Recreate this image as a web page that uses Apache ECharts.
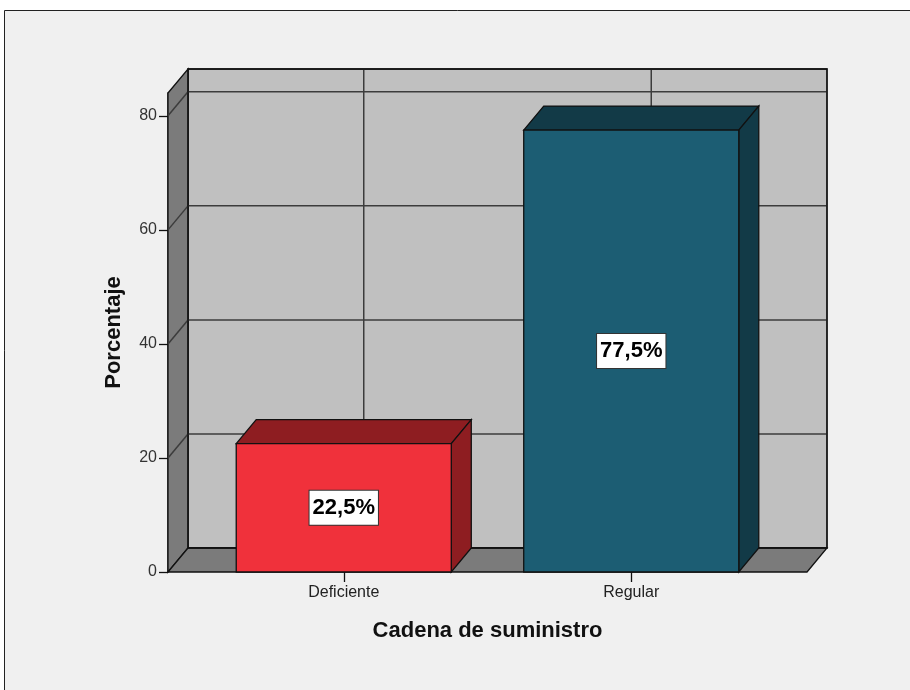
<!DOCTYPE html>
<html>
<head>
<meta charset="utf-8">
<script src="https://cdn.jsdelivr.net/npm/echarts@6/dist/echarts.min.js"></script>
<style>
  html, body { margin: 0; padding: 0; background: #ffffff; }
  #chart { width: 910px; height: 690px; }
</style>
</head>
<body>
<div id="chart"></div>
<script>
// Data
const categories = ['Deficiente', 'Regular'];
const percentages = [22.5, 77.5];
const yTicks = [0, 20, 40, 60, 80];
const yMax = 84;

// Styling constants for the pseudo-3D box
const DEPTH_X = 20;       // horizontal shift of the back plane (px)
const DEPTH_Y = -24;      // vertical shift of the back plane (px)
const WALL_PAD = 32;      // how far the walls/floor reach beyond the category bands (px)
const BAR_RATIO = 0.748;  // bar width relative to category band
const BAR_COLORS = [
  { front: '#f0313b', dark: '#8e1d21' },
  { front: '#1c5d73', dark: '#123a47' }
];
const FONT = '"Liberation Sans", Arial, sans-serif';
const EDGE = { stroke: '#111', lineWidth: 1.3 };
const GRID_LINE = { stroke: '#3c3c3c', lineWidth: 1.5 };

function fmtPct(v) {
  return v.toFixed(1).replace('.', ',') + '%';
}

// Back wall, left wall, floor and grid lines
function renderFrame(params, api) {
  const cs = params.coordSys;
  const left = cs.x - WALL_PAD;
  const right = cs.x + cs.width + WALL_PAD;
  const y0 = api.coord([0, 0])[1];
  const yTop = api.coord([0, yMax])[1];
  const children = [];

  // back wall
  children.push({
    type: 'rect',
    shape: { x: left + DEPTH_X, y: yTop + DEPTH_Y, width: right - left, height: y0 - yTop },
    style: Object.assign({ fill: '#c0c0c0' }, EDGE)
  });
  // left wall
  children.push({
    type: 'polygon',
    shape: { points: [[left, yTop], [left + DEPTH_X, yTop + DEPTH_Y], [left + DEPTH_X, y0 + DEPTH_Y], [left, y0]] },
    style: Object.assign({ fill: '#7b7b7b' }, EDGE)
  });
  // floor
  children.push({
    type: 'polygon',
    shape: { points: [[left, y0], [left + DEPTH_X, y0 + DEPTH_Y], [right + DEPTH_X, y0 + DEPTH_Y], [right, y0]] },
    style: Object.assign({ fill: '#7b7b7b' }, EDGE)
  });
  // horizontal grid lines on back wall + diagonals on left wall
  yTicks.forEach(function (t) {
    if (t === 0) return;
    const y = api.coord([0, t])[1];
    children.push({
      type: 'line',
      shape: { x1: left + DEPTH_X, y1: y + DEPTH_Y, x2: right + DEPTH_X, y2: y + DEPTH_Y },
      style: GRID_LINE
    });
    children.push({
      type: 'line',
      shape: { x1: left, y1: y, x2: left + DEPTH_X, y2: y + DEPTH_Y },
      style: GRID_LINE
    });
  });
  // vertical grid lines at category positions
  categories.forEach(function (c, i) {
    const x = api.coord([i, 0])[0];
    children.push({
      type: 'line',
      shape: { x1: x + DEPTH_X, y1: yTop + DEPTH_Y, x2: x + DEPTH_X, y2: y0 + DEPTH_Y },
      style: GRID_LINE
    });
  });
  // re-stroke the back wall outline on top of grid lines
  children.push({
    type: 'rect',
    shape: { x: left + DEPTH_X, y: yTop + DEPTH_Y, width: right - left, height: y0 - yTop },
    style: Object.assign({ fill: null }, EDGE)
  });
  return { type: 'group', children: children };
}

// 3D-looking bar with a boxed value label
function renderBar(params, api) {
  const i = api.value(0);
  const v = api.value(1);
  const top = api.coord([i, v]);
  const base = api.coord([i, 0]);
  const w = api.size([1, 0])[0] * BAR_RATIO;
  const xl = top[0] - w / 2;
  const xr = top[0] + w / 2;
  const yt = top[1];
  const yb = base[1];
  const col = BAR_COLORS[i % BAR_COLORS.length];
  const mid = api.coord([i, v / 2])[1];
  return {
    type: 'group',
    children: [
      {
        type: 'polygon',
        shape: { points: [[xl, yt], [xl + DEPTH_X, yt + DEPTH_Y], [xr + DEPTH_X, yt + DEPTH_Y], [xr, yt]] },
        style: Object.assign({ fill: col.dark }, EDGE)
      },
      {
        type: 'polygon',
        shape: { points: [[xr, yt], [xr + DEPTH_X, yt + DEPTH_Y], [xr + DEPTH_X, yb + DEPTH_Y], [xr, yb]] },
        style: Object.assign({ fill: col.dark }, EDGE)
      },
      {
        type: 'rect',
        shape: { x: xl, y: yt, width: w, height: yb - yt },
        style: Object.assign({ fill: col.front }, EDGE)
      },
      {
        type: 'text',
        x: top[0],
        y: mid,
        z2: 10,
        style: {
          text: fmtPct(v),
          font: 'bold 22px ' + FONT,
          fill: '#000',
          align: 'center',
          verticalAlign: 'middle',
          backgroundColor: '#ffffff',
          borderColor: '#333',
          borderWidth: 1,
          padding: [7, 3, 5, 3]
        }
      }
    ]
  };
}

const chart = echarts.init(document.getElementById('chart'), null, { renderer: 'canvas' });

chart.setOption({
  backgroundColor: '#ffffff',
  animation: false,
  graphic: [
    {
      type: 'rect',
      z: -10,
      shape: { x: 4.5, y: 10.5, width: 920, height: 700 },
      style: { fill: '#f0f0f0', stroke: '#222', lineWidth: 1 }
    }
  ],
  grid: { left: 200, right: 135, top: 93, bottom: 118 },
  xAxis: {
    type: 'category',
    data: categories,
    axisLine: { show: false },
    axisTick: { show: true, alignWithLabel: true, length: 10, lineStyle: { color: '#111', width: 1.3 } },
    axisLabel: { fontSize: 16, color: '#222', margin: 13, fontFamily: FONT },
    splitLine: { show: false },
    name: 'Cadena de suministro',
    nameLocation: 'middle',
    nameGap: 48,
    nameTextStyle: { fontSize: 22, fontWeight: 'bold', color: '#111', fontFamily: FONT }
  },
  yAxis: {
    type: 'value',
    min: 0,
    max: yMax,
    interval: 20,
    offset: WALL_PAD,
    axisLine: { show: true, lineStyle: { color: '#111', width: 1.5 } },
    axisTick: { show: true, length: 9, customValues: yTicks, lineStyle: { color: '#111', width: 1.3 } },
    axisLabel: { fontSize: 16, color: '#333', margin: 11, fontFamily: FONT, customValues: yTicks },
    splitLine: { show: false },
    name: 'Porcentaje',
    nameLocation: 'middle',
    nameGap: 43,
    nameRotate: 90,
    nameTextStyle: { fontSize: 22, fontWeight: 'bold', color: '#111', fontFamily: FONT }
  },
  series: [
    {
      type: 'custom',
      name: 'frame',
      z: 1,
      silent: true,
      renderItem: renderFrame,
      data: [[0, 0]],
      encode: { x: 0, y: 1 }
    },
    {
      type: 'custom',
      name: 'Porcentaje',
      z: 2,
      renderItem: renderBar,
      data: percentages.map(function (v, i) { return [i, v]; }),
      encode: { x: 0, y: 1 }
    }
  ]
});
</script>
</body>
</html>
